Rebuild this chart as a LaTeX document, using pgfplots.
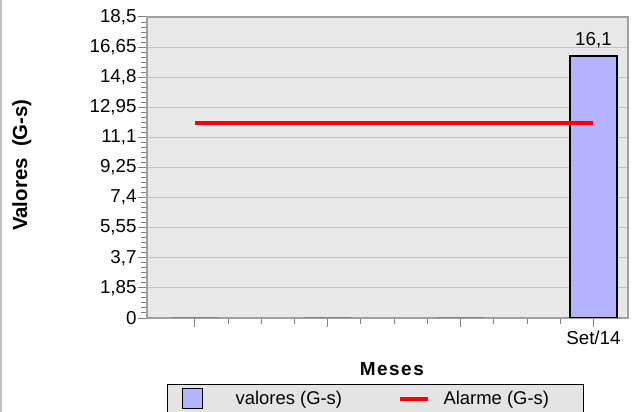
\documentclass[border=0pt]{standalone}
\usepackage{fontspec}
\setmainfont{Liberation Sans}
\usepackage{pgfplots}
\pgfplotsset{compat=1.18}
\definecolor{barblue}{HTML}{B3B3FF}
\definecolor{plotbg}{HTML}{E8E8E8}
\definecolor{gridgray}{HTML}{C2C2C2}
\definecolor{axisgray}{HTML}{A0A0A0}
\definecolor{tickgray}{HTML}{808080}
\definecolor{legfill}{HTML}{E4E4E4}
\begin{document}
\begin{tikzpicture}
\useasboundingbox (0bp,0bp) rectangle (642bp,412bp);
\draw[gridgray, line width=2bp] (1bp,0bp) -- (1bp,412bp);
\begin{axis}[
    at={(147bp,94bp)}, anchor=south west,
    scale only axis,
    width=481bp, height=301bp,
    xmin=0.64, xmax=4.26,
    ymin=0, ymax=18.5,
    axis background/.style={fill=plotbg},
    axis line style={axisgray, line width=1.6bp},
    ytick={0,1.85,3.7,5.55,7.4,9.25,11.1,12.95,14.8,16.65,18.5},
    yticklabels={0,{1,85},{3,7},{5,55},{7,4},{9,25},{11,1},{12,95},{14,8},{16,65},{18,5}},
    xtick={1,2,3,4},
    xticklabels={,,,Set/14},
    minor x tick num=3,
    minor y tick num=5,
    tick align=outside,
    xtick pos=bottom, ytick pos=left,
    major tick length=9bp, minor tick length=6bp,
    tick style={tickgray, line width=1bp},
    ymajorgrids,
    major grid style={gridgray, line width=1bp},
    tick label style={font=\fontsize{18.8}{20}\selectfont},
    yticklabel style={xshift=2bp},
    xlabel={\bfseries\addfontfeature{LetterSpace=8}Meses},
    xlabel style={at={(axis description cs:0.509,-0.169)}, anchor=center, font=\fontsize{19}{21}\selectfont},
    ylabel={\bfseries Valores\ \ (G-s)},
    ylabel style={at={(axis description cs:-0.26,0.508)}, anchor=center, font=\fontsize{20.5}{22}\selectfont},
    legend columns=2,
    legend style={at={(axis description cs:0.0416,-0.219)}, anchor=north west,
        fill=legfill, draw=black, line width=1.2bp,
        inner xsep=0pt, inner ysep=2bp,
        font=\fontsize{18.5}{20}\selectfont,
        nodes={inner xsep=0pt},
        column sep=0pt},
]
% barras com valor zero
\addplot[ybar, bar width=47bp, bar shift=0pt, draw=tickgray, line width=1.5bp, fill=none, forget plot]
    coordinates {(1,0) (2,0) (3,0)};
% valores (G-s)
\addplot[ybar, bar width=47bp, bar shift=0pt, draw=black, line width=1.5bp, fill=barblue,
    point meta=explicit symbolic,
    nodes near coords,
    nodes near coords style={font=\fontsize{18.8}{20}\selectfont, black, yshift=4bp},
    legend image code/.code={
        \path[draw=none, fill=none] (0bp,-12bp) rectangle (68bp,12bp);
        \draw[fill=barblue, draw=black, line width=1.2bp] (15bp,-10bp) rectangle (35bp,10bp);
    }]
    coordinates {(4,16.1) [16,1]};
\addlegendentry{\makebox[107bp][l]{valores (G-s)}}
% Alarme (G-s)
\addplot[red, line width=4bp,
    legend image code/.code={
        \path[draw=none, fill=none] (0bp,-12bp) rectangle (101bp,12bp);
        \draw[red, line width=4bp] (57bp,0bp) -- (85bp,0bp);
    }]
    coordinates {(1,12) (4,12)};
\addlegendentry{\makebox[140bp][l]{Alarme (G-s)}}
\end{axis}
\end{tikzpicture}
\end{document}
